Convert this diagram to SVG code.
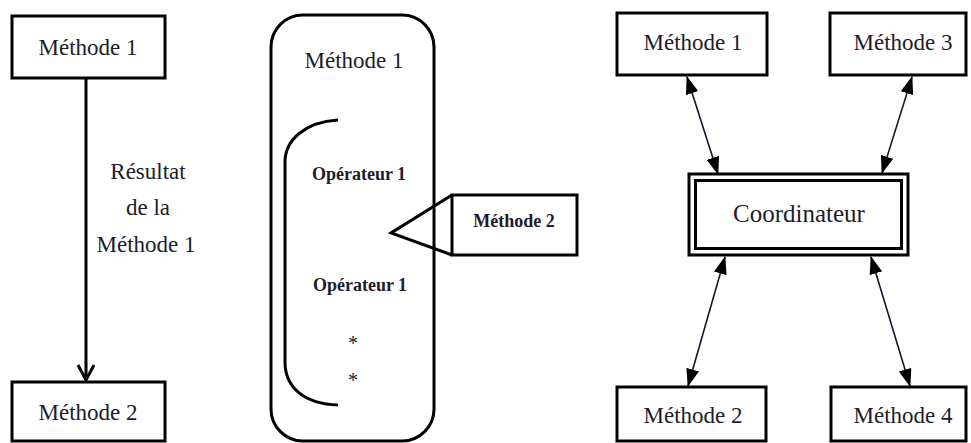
<svg xmlns="http://www.w3.org/2000/svg" width="971" height="443" viewBox="0 0 971 443">
<style>
.box{fill:#fff;stroke:#000;stroke-width:3}
.t{font-family:"Liberation Serif",serif;font-size:23px;fill:#1c1c2c;text-anchor:middle}
.tb{font-family:"Liberation Serif",serif;font-size:18px;font-weight:bold;fill:#1c1c2c;text-anchor:middle}
.ln{fill:none;stroke:#000;stroke-width:3}
.dl{fill:none;stroke:#101828;stroke-width:1.6}
</style>
<defs>
<marker id="ah" viewBox="0 0 18 13" refX="17" refY="6.5" markerWidth="18" markerHeight="13" markerUnits="userSpaceOnUse" orient="auto-start-reverse">
<path d="M0,0 L18,6.5 L0,13 Z" fill="#000"/>
</marker>
</defs>
<rect width="971" height="443" fill="#fff"/>

<!-- Left diagram -->
<g id="left-m1"><rect class="box" x="12" y="16" width="153" height="62"/><text class="t" x="88" y="55">Méthode 1</text></g>
<g id="left-m2"><rect class="box" x="12" y="382" width="153" height="59"/><text class="t" x="88" y="420">Méthode 2</text></g>
<g id="left-conn">
<line class="ln" x1="86" y1="78" x2="86" y2="380"/>
<path class="ln" d="M78,365 L86,380 L94,365"/>
<text class="t" x="148" y="179">Résultat</text>
<text class="t" x="148" y="215">de la</text>
<text class="t" x="146" y="252">Méthode 1</text>
</g>

<!-- Middle diagram -->
<g id="mid-m1">
<rect class="box" x="271" y="15" width="163" height="426" rx="32" ry="32"/>
<text class="t" x="354" y="68">Méthode 1</text>
<path class="ln" d="M338,120 C305,122 285,140 285,162 L285,362 C285,388 305,404 338,405"/>
<text class="tb" x="359" y="180">Opérateur 1</text>
<text class="tb" x="360" y="291">Opérateur 1</text>
<text class="t" x="353" y="350" style="font-size:20px">*</text>
<text class="t" x="353" y="387" style="font-size:20px">*</text>
</g>
<g id="mid-m2">
<rect class="box" x="452" y="195" width="125" height="60"/>
<text class="tb" x="514" y="227">Méthode 2</text>
<path class="ln" d="M452,195 L391,233 L452,255"/>
</g>

<!-- Right diagram -->
<g id="r-m1"><rect class="box" x="617" y="13" width="150" height="62"/><text class="t" x="693" y="50">Méthode 1</text></g>
<g id="r-m3"><rect class="box" x="830" y="13" width="136" height="62"/><text class="t" x="903" y="50">Méthode 3</text></g>
<g id="r-coord">
<rect class="box" x="689" y="174" width="219" height="81"/>
<rect class="box" x="695.5" y="180.5" width="206" height="68"/>
<text class="t" x="799" y="222" style="font-size:25px">Coordinateur</text>
</g>
<g id="r-m2"><rect class="box" x="617" y="387" width="149" height="54"/><text class="t" x="693" y="423">Méthode 2</text></g>
<g id="r-m4"><rect class="box" x="831" y="387" width="135" height="54"/><text class="t" x="903" y="423">Méthode 4</text></g>
<g id="connectors">
<line class="dl" x1="687" y1="77" x2="718" y2="174" marker-start="url(#ah)" marker-end="url(#ah)"/>
<line class="dl" x1="912" y1="77" x2="882" y2="173" marker-start="url(#ah)" marker-end="url(#ah)"/>
<line class="dl" x1="725" y1="257" x2="688" y2="386" marker-start="url(#ah)" marker-end="url(#ah)"/>
<line class="dl" x1="871" y1="257" x2="910" y2="386" marker-start="url(#ah)" marker-end="url(#ah)"/>
</g>
</svg>
